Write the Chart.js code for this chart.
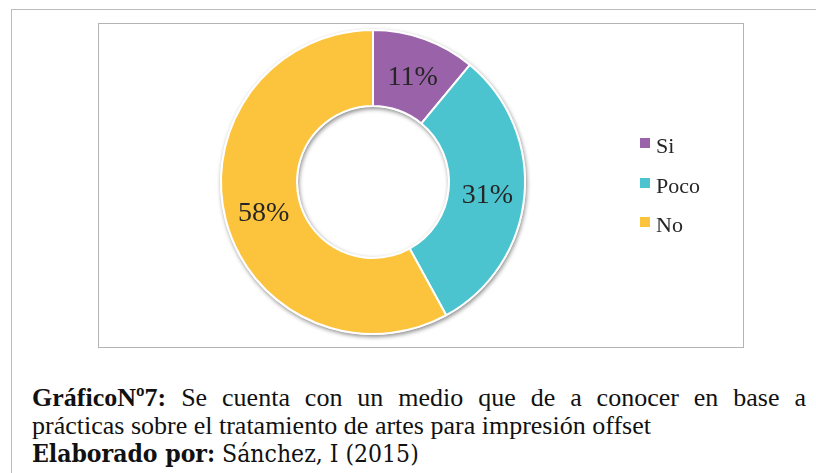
<!DOCTYPE html>
<html>
<head>
<meta charset="utf-8">
<script src="https://cdn.jsdelivr.net/npm/chart.js@4.4.0/dist/chart.umd.min.js"></script>
<style>
  html, body { margin: 0; padding: 0; background: #fff; }
  body { width: 816px; height: 473px; overflow: hidden; position: relative; }
  #outer {
    position: absolute; left: 11px; top: 9px; width: 830px; height: 500px;
    border-left: 1px solid #bcbcbc; border-top: 1px solid #bcbcbc;
  }
  #box {
    position: absolute; left: 98px; top: 23px; width: 644px; height: 323px;
    border: 1px solid #b4b4b4; background: #fff;
  }
  #box canvas { position: absolute; left: 0; top: 0; }
  #legend { position: absolute; left: 640px; top: 0; }
  .item { position: absolute; left: 0; white-space: nowrap; font: 22px "Liberation Serif", serif; color: #262626; }
  .item span.sq { position: absolute; left: 0; top: 0; width: 10px; height: 10px; }
  .item span.tx { position: absolute; left: 16px; top: -3px; line-height: 22px; }
  #caption {
    position: absolute; left: 32px; top: 384px; width: 774px;
    font: 26px "Liberation Serif", serif; color: #111; line-height: 28px;
  }
  #caption .l1 { text-align: justify; text-align-last: justify; white-space: nowrap; }
  #caption .l3 { font-family: "DejaVu Serif Condensed", "DejaVu Serif", "Liberation Serif", serif; font-size: 24.5px; white-space: nowrap; }
</style>
</head>
<body>
<div id="outer"></div>
<div id="box"><canvas id="donut" width="644" height="323"></canvas></div>
<div id="legend"></div>
<div id="caption">
  <div class="l1"><b>GráficoNº7:</b> Se cuenta con un medio que de a conocer en base a</div>
  <div class="l2">prácticas sobre el tratamiento de artes para impresión offset</div>
  <div class="l3"><b>Elaborado por:</b> Sánchez, I (2015)</div>
</div>
<script>
// data
const labels = ["Si", "Poco", "No"];
const values = [11, 31, 58];
const colors = ["#9a62a8", "#4bc4cf", "#fcc33c"];

// legend built from the arrays
const legend = document.getElementById("legend");
labels.forEach((name, i) => {
  const item = document.createElement("div");
  item.className = "item";
  item.style.top = (138 + i * 39.5) + "px";
  item.innerHTML = '<span class="sq" style="background:' + colors[i] + '"></span><span class="tx">' + name + '</span>';
  legend.appendChild(item);
});

// soft shadow ring behind the slices
const ringShadow = {
  id: "ringShadow",
  beforeDatasetsDraw(chart) {
    const arc = chart.getDatasetMeta(0).data[0];
    if (!arc) return;
    const ctx = chart.ctx;
    ctx.save();
    ctx.shadowColor = "rgba(0,0,0,0.45)";
    ctx.shadowBlur = 4;
    ctx.shadowOffsetX = 1;
    ctx.shadowOffsetY = 2;
    ctx.fillStyle = "#ffffff";
    ctx.beginPath();
    ctx.arc(arc.x, arc.y, arc.outerRadius + 1, 0, Math.PI * 2);
    ctx.arc(arc.x, arc.y, arc.innerRadius - 1, 0, Math.PI * 2, true);
    ctx.fill();
    ctx.restore();
  }
};

// percent labels on the slices
const sliceLabels = {
  id: "sliceLabels",
  afterDatasetsDraw(chart) {
    const ctx = chart.ctx;
    const meta = chart.getDatasetMeta(0);
    ctx.save();
    ctx.font = '28px "Liberation Serif", serif';
    ctx.fillStyle = "#262626";
    ctx.textAlign = "center";
    ctx.textBaseline = "middle";
    meta.data.forEach((arc, i) => {
      const p = arc.tooltipPosition();
      ctx.fillText(values[i] + "%", p.x + 1, p.y + 3);
    });
    ctx.restore();
  }
};

const donutChart = new Chart(document.getElementById("donut"), {
  type: "doughnut",
  data: {
    labels: labels,
    datasets: [{
      data: values,
      backgroundColor: colors,
      borderColor: "#ffffff",
      borderWidth: 2,
      hoverOffset: 0
    }]
  },
  options: {
    responsive: false,
    animation: false,
    radius: 152,
    cutout: "50%",
    layout: { padding: { left: 122, right: 218, top: 6, bottom: 13 } },
    plugins: {
      legend: { display: false },
      tooltip: { enabled: false }
    }
  },
  plugins: [ringShadow, sliceLabels]
});
</script>
</body>
</html>
